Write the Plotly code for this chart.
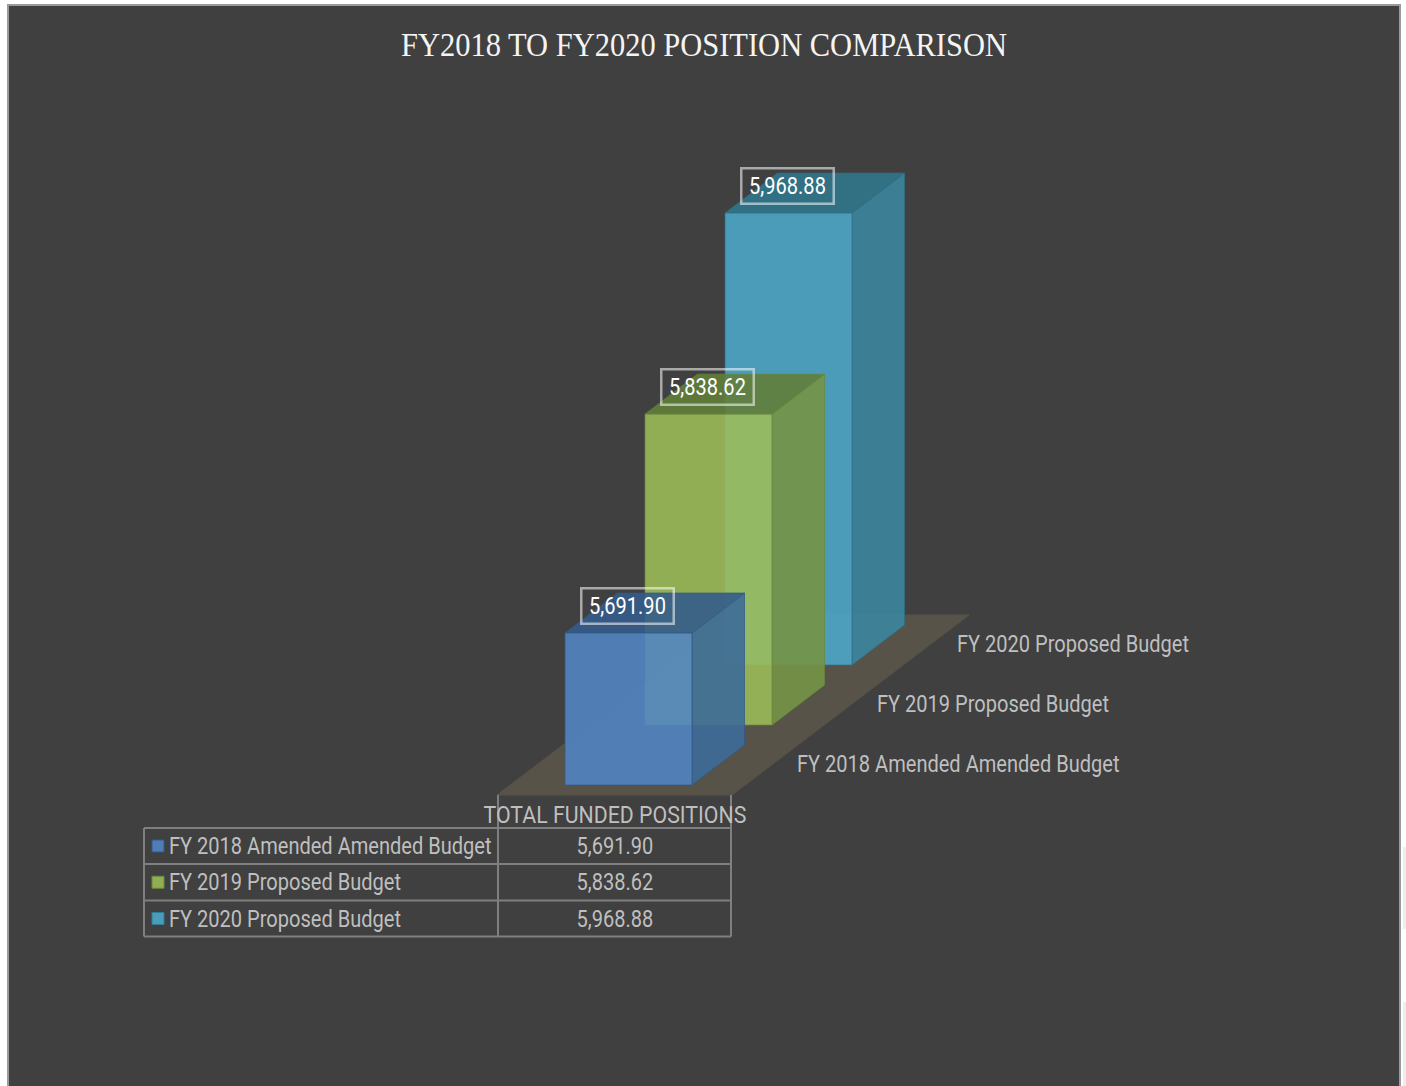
import plotly.graph_objects as go

# ---- data ----
categories = ["FY 2018 Amended Amended Budget", "FY 2019 Proposed Budget", "FY 2020 Proposed Budget"]
values = [5691.90, 5838.62, 5968.88]
value_labels = ["5,691.90", "5,838.62", "5,968.88"]
group_label = "TOTAL FUNDED POSITIONS"
title_text = "FY2018 TO FY2020 POSITION COMPARISON"

# ---- styles: (front, side, top, edge) ----
bar_colors = [
    ("rgba(81,133,196,0.88)", "rgba(61,107,152,0.9)", "rgba(52,92,138,0.9)", "rgba(50,88,135,0.7)"),
    ("rgba(157,189,88,0.88)", "rgba(116,148,70,0.92)", "rgba(98,126,58,0.9)", "rgba(105,135,60,0.7)"),
    ("rgba(76,169,201,0.88)", "rgba(60,134,158,0.9)", "rgba(49,118,140,0.9)", "rgba(45,110,135,0.7)"),
]
swatches = ["#4F7DB4", "#92AE55", "#4B9CB9"]
swatch_edges = ["#35598A", "#6B8A3C", "#2F7D98"]
BG = "#404040"
TEXT = "#BFBFBF"
GRID = "#7F7F7F"
NARROW = "Roboto, sans-serif"

# ---- oblique projection of the 3-D scene ----
W, H = 1406, 1086
BASE = 5551.6            # value at the floor
SCALE = 1.083            # pixels per position
X0, Y0 = 565, 785        # front-lower-left of first bar, pixels
STEP_X, STEP_Y = 80, 60  # one category deeper
BAR_W = 127
DEP_X, DEP_Y = 52.5, 40  # bar depth


def value_of(py):
    return BASE + (Y0 - py) / SCALE


def pt(i, u, d, v):
    """category index i, u across the bar, d into the bar, value v"""
    x = X0 + STEP_X * i + u * BAR_W + d * DEP_X
    y = v + (STEP_Y * i + DEP_Y * d) / SCALE
    return x, y


def poly(points, fill, edge, width=1):
    xs = [p[0] for p in points] + [points[0][0]]
    ys = [p[1] for p in points] + [points[0][1]]
    return go.Scatter(x=xs, y=ys, mode="lines", fill="toself", fillcolor=fill,
                      line=dict(color=edge, width=width), hoverinfo="skip", showlegend=False)


fig = go.Figure()

# floor
fig.add_trace(poly([
    (497, value_of(795)), (732, value_of(795)), (969, value_of(615)), (734, value_of(615))
], "#575349", "#575349"))

# bars back to front
for i in [2, 1, 0]:
    v = values[i]
    front, side, top, edge = bar_colors[i]
    fig.add_trace(poly([pt(i, 1, 0, BASE), pt(i, 1, 1, BASE), pt(i, 1, 1, v), pt(i, 1, 0, v)], side, edge))
    fig.add_trace(poly([pt(i, 0, 0, v), pt(i, 1, 0, v), pt(i, 1, 1, v), pt(i, 0, 1, v)], top, edge))
    fig.add_trace(poly([pt(i, 0, 0, BASE), pt(i, 1, 0, BASE), pt(i, 1, 0, v), pt(i, 0, 0, v)], front, edge))


def yp(py):
    return 1 - py / H


def xp(px):
    return px / W


shapes = []
annos = []


def line(x0, y0, x1, y1, color=GRID, width=2):
    shapes.append(dict(type="line", xref="paper", yref="paper", x0=xp(x0), x1=xp(x1), y0=yp(y0), y1=yp(y1),
                       line=dict(color=color, width=width), layer="above"))


def rect(x0, y0, x1, y1, fill, lc=None, lw=0, layer="above"):
    shapes.append(dict(type="rect", xref="paper", yref="paper", x0=xp(x0), x1=xp(x1), y0=yp(y0), y1=yp(y1),
                       fillcolor=fill, line=dict(color=lc or fill, width=lw), layer=layer))


def text(px, py, s, size=24, color=TEXT, anchor="left", family=NARROW):
    annos.append(dict(xref="paper", yref="paper", x=xp(px), y=yp(py), text=s, showarrow=False,
                      xanchor=anchor, yanchor="middle", font=dict(family=family, size=size, color=color)))


# page / frame
rect(8, 5, 1400, 1090, BG, "#9A9A9A", 2, layer="below")
rect(1403, 847, 1406, 929, "#EDEDED", layer="below")
rect(1403, 1002, 1406, 1086, "#EDEDED", layer="below")

# title
text(704, 45, title_text, size=33, color="#F4F4F4", anchor="center", family="Liberation Serif, serif")

# data labels
for i, v in enumerate(values):
    x, y = pt(i, 0.5, 0, v)
    annos.append(dict(x=x, y=y, xref="x", yref="y", text=value_labels[i], showarrow=False,
                      yshift=27, xshift=-1, width=88, height=31, align="center", valign="middle",
                      bordercolor="rgba(255,255,255,0.55)", borderwidth=2.5, borderpad=1,
                      font=dict(family=NARROW, size=24, color="#FFFFFF")))

# depth axis labels
for i, c in enumerate(categories):
    x, y = pt(i, 0, 0, BASE)
    annos.append(dict(x=x, y=y, xref="x", yref="y", text=c, showarrow=False, xanchor="left",
                      yanchor="middle", xshift=230, yshift=21,
                      font=dict(family=NARROW, size=24, color=TEXT)))

# data table
TL, TM, TR = 144, 498, 731
ROWS = [828, 864, 900.5, 936.5]
for y in ROWS:
    line(TL, y, TR, y)
line(TL, ROWS[0], TL, ROWS[-1])
line(TM, 795, TM, ROWS[-1])
line(TR, 795, TR, ROWS[-1])
text((TM + TR) / 2, 815, group_label, anchor="center")
for i, c in enumerate(categories):
    cy = (ROWS[i] + ROWS[i + 1]) / 2
    rect(152, cy - 6, 164, cy + 6, swatches[i], swatch_edges[i], 1)
    text(167, cy, c)
    text((TM + TR) / 2, cy, value_labels[i], anchor="center")

fig.update_layout(
    width=W, height=H, margin=dict(l=0, r=0, t=0, b=0),
    paper_bgcolor="#FFFFFF", plot_bgcolor="rgba(0,0,0,0)",
    xaxis=dict(range=[0, W], visible=False, fixedrange=True),
    yaxis=dict(range=[value_of(H), value_of(0)], visible=False, fixedrange=True),
    shapes=shapes, annotations=annos, showlegend=False,
)

# condense the text horizontally (the original's typeface is a narrow sans);
# left-aligned labels ("FY ...") keep their left edge
squeeze = """
document.body.style.margin='0';document.body.style.overflow='hidden';
document.querySelectorAll('.annotation-text').forEach(function(t){
  var s=t.textContent, w=t.getComputedTextLength(), f=0.835;
  if(s.indexOf('COMPARISON')>=0) f=606/w;
  else if(s.indexOf('TOTAL')>=0) f=0.888;
  else if(s.indexOf('FY ')===0) t.setAttribute('x', parseFloat(t.getAttribute('x'))-w*(1-f)/2);
  t.setAttribute('textLength', w*f);
  t.setAttribute('lengthAdjust','spacingAndGlyphs');
});
"""
fig.write_html("out.html", config={"displayModeBar": False}, post_script=squeeze)
